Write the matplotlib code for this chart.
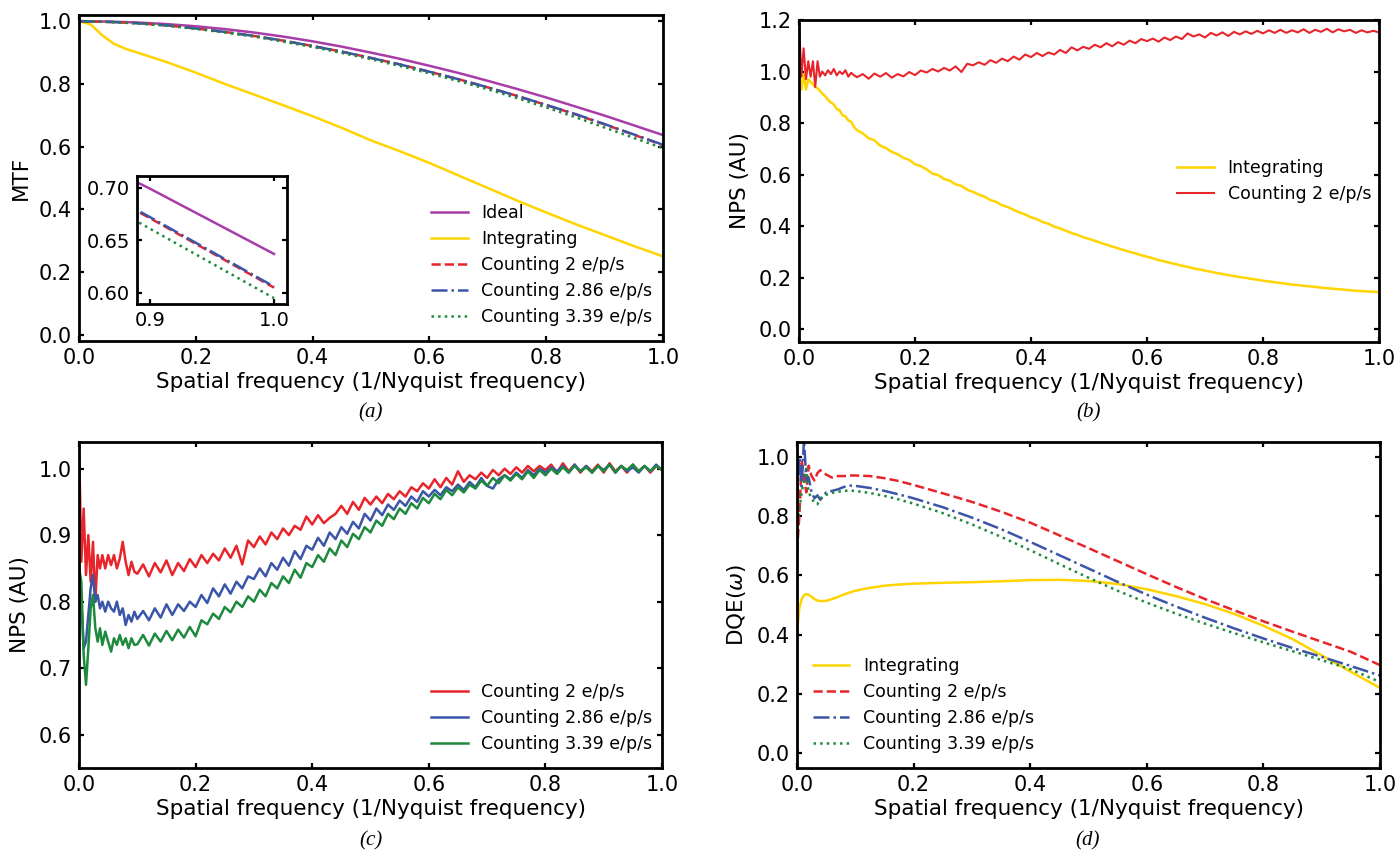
import matplotlib
matplotlib.use("Agg")
import matplotlib.pyplot as plt
from matplotlib.ticker import FormatStrFormatter, MultipleLocator

# ---------------- data ----------------
labels = ["Ideal", "Integrating", "Counting 2 e/p/s", "Counting 2.86 e/p/s",
          "Counting 3.39 e/p/s"]

# (a) MTF
mtf_freq = [0.00, 0.05, 0.10, 0.15, 0.20, 0.25, 0.30, 0.35, 0.40, 0.45, 0.50,
            0.55, 0.60, 0.65, 0.70, 0.75, 0.80, 0.85, 0.90, 0.95, 1.00]
mtf_ideal = [1.000, 0.999, 0.996, 0.991, 0.984, 0.975, 0.964, 0.951, 0.936,
             0.919, 0.900, 0.880, 0.858, 0.835, 0.810, 0.784, 0.757, 0.728,
             0.699, 0.668, 0.637]
mtf_c200 = [1.000, 0.998, 0.994, 0.987, 0.977, 0.966, 0.953, 0.938, 0.921,
            0.903, 0.883, 0.862, 0.839, 0.815, 0.789, 0.762, 0.733, 0.703,
            0.671, 0.638, 0.605]
mtf_c286 = [1.000, 0.998, 0.994, 0.987, 0.977, 0.966, 0.953, 0.938, 0.921,
            0.903, 0.883, 0.862, 0.839, 0.815, 0.789, 0.762, 0.733, 0.704,
            0.672, 0.639, 0.606]
mtf_c339 = [1.000, 0.998, 0.993, 0.986, 0.976, 0.964, 0.951, 0.935, 0.918,
            0.899, 0.879, 0.857, 0.834, 0.809, 0.783, 0.755, 0.725, 0.694,
            0.661, 0.628, 0.595]
mtf_int_freq = [0.00, 0.02, 0.04, 0.06, 0.08, 0.10, 0.15, 0.20, 0.25, 0.30,
                0.35, 0.40, 0.45, 0.50, 0.55, 0.60, 0.65, 0.70, 0.75, 0.80,
                0.85, 0.90, 0.95, 1.00]
mtf_int = [1.000, 0.990, 0.955, 0.928, 0.912, 0.900, 0.870, 0.836, 0.800,
           0.766, 0.732, 0.697, 0.660, 0.620, 0.585, 0.548, 0.508, 0.468,
           0.428, 0.390, 0.353, 0.318, 0.283, 0.250]

# (b), (c) NPS sampling
nps_freq = [0.000, 0.004, 0.008, 0.012, 0.016, 0.020, 0.024, 0.028, 0.032,
            0.036, 0.040, 0.045, 0.050, 0.055, 0.060, 0.065, 0.070, 0.075,
            0.080, 0.085, 0.090, 0.095,
            0.10, 0.11, 0.12, 0.13, 0.14, 0.15, 0.16, 0.17, 0.18, 0.19,
            0.20, 0.21, 0.22, 0.23, 0.24, 0.25, 0.26, 0.27, 0.28, 0.29,
            0.30, 0.31, 0.32, 0.33, 0.34, 0.35, 0.36, 0.37, 0.38, 0.39,
            0.40, 0.41, 0.42, 0.43, 0.44, 0.45, 0.46, 0.47, 0.48, 0.49,
            0.50, 0.51, 0.52, 0.53, 0.54, 0.55, 0.56, 0.57, 0.58, 0.59,
            0.60, 0.61, 0.62, 0.63, 0.64, 0.65, 0.66, 0.67, 0.68, 0.69,
            0.70, 0.71, 0.72, 0.73, 0.74, 0.75, 0.76, 0.77, 0.78, 0.79,
            0.80, 0.81, 0.82, 0.83, 0.84, 0.85, 0.86, 0.87, 0.88, 0.89,
            0.90, 0.91, 0.92, 0.93, 0.94, 0.95, 0.96, 0.97, 0.98, 0.99, 1.00]

# (b) NPS integrating vs counting
nps_b_int = [1.000, 0.930, 0.990, 0.930, 0.970, 0.960, 0.950, 0.940, 0.935,
             0.925, 0.915, 0.905, 0.890, 0.880, 0.872, 0.855, 0.850, 0.830,
             0.826, 0.810, 0.805, 0.785,
             0.772, 0.760, 0.741, 0.733, 0.712, 0.703, 0.688, 0.679, 0.665, 0.657,
             0.640, 0.633, 0.620, 0.604, 0.598, 0.583, 0.576, 0.562, 0.556, 0.541,
             0.533, 0.522, 0.514, 0.501, 0.494, 0.481, 0.474, 0.463, 0.453, 0.445,
             0.434, 0.427, 0.416, 0.409, 0.398, 0.391, 0.382, 0.373, 0.366, 0.357,
             0.350, 0.343, 0.335, 0.328, 0.321, 0.314, 0.307, 0.300, 0.294, 0.287,
             0.281, 0.275, 0.268, 0.263, 0.257, 0.252, 0.246, 0.242, 0.236, 0.232,
             0.227, 0.223, 0.218, 0.214, 0.210, 0.206, 0.202, 0.199, 0.195, 0.192,
             0.188, 0.185, 0.182, 0.179, 0.176, 0.173, 0.171, 0.168, 0.166, 0.164,
             0.161, 0.159, 0.157, 0.155, 0.153, 0.151, 0.149, 0.148, 0.146, 0.145,
             0.143]
nps_b_c200 = [1.200, 0.980, 1.090, 0.970, 1.040, 0.980, 1.040, 0.940, 1.040,
              0.980, 1.000, 0.985, 1.005, 0.990, 1.010, 0.985, 1.000, 0.990,
              1.005, 0.980, 0.995, 0.985,
              0.978, 0.990, 0.972, 0.992, 0.980, 0.994, 0.976, 0.990, 0.981, 0.998,
              0.986, 1.004, 0.996, 1.010, 1.000, 1.014, 1.004, 1.020, 0.998, 1.030,
              1.024, 1.036, 1.026, 1.044, 1.034, 1.050, 1.040, 1.058, 1.046, 1.066,
              1.056, 1.072, 1.060, 1.074, 1.066, 1.084, 1.072, 1.094, 1.082, 1.096,
              1.088, 1.104, 1.094, 1.110, 1.098, 1.114, 1.104, 1.120, 1.110, 1.126,
              1.118, 1.128, 1.116, 1.132, 1.122, 1.136, 1.126, 1.148, 1.136, 1.144,
              1.132, 1.150, 1.140, 1.152, 1.138, 1.154, 1.144, 1.156, 1.146, 1.158,
              1.148, 1.160, 1.150, 1.162, 1.150, 1.160, 1.152, 1.164, 1.150, 1.162,
              1.154, 1.166, 1.152, 1.164, 1.156, 1.162, 1.150, 1.160, 1.152, 1.158,
              1.152]

# (c) normalised NPS of the counting modes
nps_c_c200 = [1.040, 0.860, 0.940, 0.840, 0.900, 0.830, 0.890, 0.800, 0.870,
              0.850, 0.870, 0.850, 0.870, 0.855, 0.870, 0.850, 0.865, 0.890,
              0.860, 0.840, 0.860, 0.845,
              0.842, 0.856, 0.838, 0.858, 0.844, 0.862, 0.840, 0.858, 0.846, 0.864,
              0.852, 0.870, 0.858, 0.872, 0.862, 0.880, 0.866, 0.884, 0.856, 0.892,
              0.882, 0.898, 0.886, 0.904, 0.894, 0.910, 0.900, 0.914, 0.908, 0.928,
              0.916, 0.930, 0.918, 0.926, 0.932, 0.944, 0.932, 0.950, 0.938, 0.956,
              0.946, 0.958, 0.948, 0.962, 0.954, 0.966, 0.958, 0.972, 0.966, 0.978,
              0.970, 0.984, 0.972, 0.986, 0.976, 0.996, 0.980, 0.990, 0.984, 0.994,
              0.986, 0.998, 0.990, 1.000, 0.992, 1.002, 0.994, 1.004, 0.996, 1.004,
              0.998, 1.006, 0.994, 1.008, 0.996, 1.006, 0.994, 1.004, 0.996, 1.006,
              0.994, 1.008, 0.996, 1.004, 0.994, 1.006, 0.996, 1.004, 0.994, 1.004,
              0.998]
nps_c_c286 = [0.850, 0.800, 0.730, 0.740, 0.780, 0.820, 0.840, 0.800, 0.810,
              0.790, 0.800, 0.785, 0.800, 0.790, 0.785, 0.800, 0.780, 0.790,
              0.765, 0.780, 0.770, 0.785,
              0.774, 0.786, 0.772, 0.790, 0.776, 0.796, 0.780, 0.796, 0.786, 0.800,
              0.792, 0.810, 0.798, 0.820, 0.808, 0.826, 0.812, 0.830, 0.820, 0.838,
              0.834, 0.850, 0.838, 0.858, 0.848, 0.866, 0.854, 0.876, 0.864, 0.884,
              0.878, 0.896, 0.884, 0.904, 0.894, 0.912, 0.902, 0.920, 0.910, 0.932,
              0.922, 0.940, 0.930, 0.946, 0.938, 0.952, 0.944, 0.958, 0.950, 0.966,
              0.958, 0.968, 0.960, 0.972, 0.966, 0.976, 0.968, 0.980, 0.972, 0.986,
              0.974, 0.970, 0.984, 0.990, 0.984, 0.994, 0.986, 0.998, 0.990, 1.000,
              0.994, 1.002, 0.996, 1.004, 0.994, 1.006, 0.996, 1.004, 0.994, 1.004,
              0.998, 1.006, 0.994, 1.004, 0.996, 1.002, 0.994, 1.004, 0.996, 1.006,
              0.998]
nps_c_c339 = [0.850, 0.830, 0.720, 0.675, 0.730, 0.790, 0.810, 0.760, 0.740,
              0.760, 0.735, 0.755, 0.740, 0.725, 0.745, 0.735, 0.750, 0.735,
              0.745, 0.730, 0.745, 0.735,
              0.736, 0.750, 0.734, 0.752, 0.740, 0.756, 0.742, 0.758, 0.746, 0.762,
              0.748, 0.772, 0.766, 0.782, 0.774, 0.792, 0.784, 0.800, 0.792, 0.808,
              0.800, 0.818, 0.808, 0.828, 0.820, 0.838, 0.828, 0.848, 0.836, 0.858,
              0.852, 0.870, 0.860, 0.880, 0.870, 0.892, 0.882, 0.902, 0.894, 0.912,
              0.904, 0.922, 0.914, 0.932, 0.924, 0.940, 0.932, 0.948, 0.940, 0.956,
              0.948, 0.962, 0.954, 0.968, 0.960, 0.972, 0.964, 0.976, 0.970, 0.982,
              0.974, 0.986, 0.978, 0.990, 0.982, 0.992, 0.984, 0.996, 0.986, 0.998,
              0.990, 1.000, 0.992, 1.002, 0.994, 1.004, 0.996, 1.002, 0.994, 1.004,
              0.996, 1.006, 0.994, 1.004, 0.998, 1.006, 0.996, 1.004, 0.996, 1.004,
              0.998]

# (d) DQE
dqe_freq = [0.000, 0.004, 0.008, 0.012, 0.016, 0.020, 0.025, 0.030, 0.035,
            0.040, 0.050, 0.060, 0.070, 0.080, 0.090, 0.100, 0.125, 0.150,
            0.175, 0.200, 0.25, 0.30, 0.35, 0.40, 0.45, 0.50, 0.55, 0.60,
            0.65, 0.70, 0.75, 0.80, 0.85, 0.90, 0.95, 1.00]
dqe_int = [0.400, 0.490, 0.520, 0.533, 0.537, 0.535, 0.528, 0.520, 0.515,
           0.513, 0.514, 0.520, 0.527, 0.535, 0.542, 0.548, 0.558, 0.565,
           0.569, 0.572, 0.575, 0.577, 0.580, 0.584, 0.585, 0.581, 0.571,
           0.553, 0.530, 0.503, 0.470, 0.430, 0.385, 0.330, 0.275, 0.220]
dqe_c200 = [0.680, 0.800, 0.990, 0.930, 0.880, 0.970, 0.935, 0.920, 0.945,
            0.955, 0.940, 0.930, 0.935, 0.935, 0.937, 0.937, 0.935, 0.928,
            0.918, 0.905, 0.877, 0.848, 0.815, 0.778, 0.735, 0.692, 0.648,
            0.604, 0.561, 0.520, 0.482, 0.445, 0.410, 0.376, 0.342, 0.297]
dqe_c286 = [0.850, 1.000, 0.900, 1.060, 0.920, 0.930, 0.880, 0.860, 0.870,
            0.855, 0.880, 0.885, 0.890, 0.898, 0.903, 0.902, 0.895, 0.885,
            0.873, 0.860, 0.830, 0.795, 0.756, 0.713, 0.668, 0.623, 0.578,
            0.535, 0.495, 0.457, 0.421, 0.387, 0.355, 0.325, 0.294, 0.262]
dqe_c339 = [0.780, 0.820, 0.880, 0.920, 0.960, 0.880, 0.860, 0.845, 0.840,
            0.860, 0.872, 0.878, 0.882, 0.885, 0.886, 0.885, 0.878, 0.868,
            0.856, 0.842, 0.810, 0.772, 0.730, 0.685, 0.638, 0.592, 0.548,
            0.508, 0.471, 0.437, 0.405, 0.374, 0.344, 0.314, 0.283, 0.240]

PURPLE = "#a83ca8"
GOLD = "#ffd400"
RED = "#e8252b"
BLUE = "#3b55a8"
GREEN = "#1e8a3e"

plt.rcParams["font.family"] = ["DejaVu Sans"]
plt.rcParams["mathtext.fontset"] = "dejavusans"

fig = plt.figure(figsize=(13.97, 8.51), dpi=100)
W, H = 1397.0, 851.0

TICK_FS = 15
LABEL_FS = 15.5


def box(left, top, right, bottom):
    return [left / W, 1 - bottom / H, (right - left) / W, (bottom - top) / H]


def style(ax, fs=TICK_FS):
    for s in ax.spines.values():
        s.set_linewidth(2.0)
    ax.tick_params(direction="in", top=True, right=True, length=3.5,
                   width=1.6, labelsize=fs, pad=5)


def legend(ax, x, y):
    ax.legend(loc="center left", bbox_to_anchor=(x, y), frameon=False,
              fontsize=12.5, handlelength=2.1, handletextpad=0.8,
              labelspacing=0.45, borderpad=0, borderaxespad=0)


lw = 1.8
xlabel = "Spatial frequency (1/Nyquist frequency)"

# ---- (a)
ax_a = fig.add_axes(box(79, 15, 663, 341))
ax_a.plot(mtf_freq, mtf_ideal, color=PURPLE, lw=lw, label=labels[0])
ax_a.plot(mtf_int_freq, mtf_int, color=GOLD, lw=lw, label=labels[1])
ax_a.plot(mtf_freq, mtf_c200, color=RED, lw=lw, ls="--", label=labels[2])
ax_a.plot(mtf_freq, mtf_c286, color=BLUE, lw=lw, ls="-.", label=labels[3])
ax_a.plot(mtf_freq, mtf_c339, color=GREEN, lw=lw, ls=":", label=labels[4])
ax_a.set_xlim(0, 1)
ax_a.set_ylim(-0.02, 1.02)
ax_a.yaxis.set_major_locator(MultipleLocator(0.2))
ax_a.set_ylabel("MTF", fontsize=LABEL_FS, labelpad=6)
ax_a.set_xlabel(xlabel, fontsize=LABEL_FS, labelpad=3)
legend(ax_a, 0.603, 0.233)

ins = fig.add_axes(box(137, 176, 287, 304))
ins.plot(mtf_freq, mtf_ideal, color=PURPLE, lw=lw)
ins.plot(mtf_freq, mtf_c200, color=RED, lw=lw, ls="--")
ins.plot(mtf_freq, mtf_c286, color=BLUE, lw=lw, ls="-.")
ins.plot(mtf_freq, mtf_c339, color=GREEN, lw=lw, ls=":")
ins.set_xlim(0.8896, 1.0104)
ins.set_ylim(0.5895, 0.711)
ins.set_xticks([0.9, 1.0])
ins.set_yticks([0.60, 0.65, 0.70])
ins.xaxis.set_major_formatter(FormatStrFormatter("%.1f"))
ins.yaxis.set_major_formatter(FormatStrFormatter("%.2f"))
style(ins, 14)

# ---- (b)
ax_b = fig.add_axes(box(799, 20, 1379, 342))
ax_b.plot(nps_freq, nps_b_int, color=GOLD, lw=lw, label=labels[1])
ax_b.plot(nps_freq, nps_b_c200, color=RED, lw=1.5, label=labels[2])
ax_b.set_xlim(0, 1)
ax_b.set_ylim(-0.05, 1.2)
ax_b.yaxis.set_major_locator(MultipleLocator(0.2))
ax_b.set_ylabel("NPS (AU)", fontsize=LABEL_FS, labelpad=6)
ax_b.set_xlabel(xlabel, fontsize=LABEL_FS, labelpad=3)
legend(ax_b, 0.652, 0.50)

# ---- (c)
ax_c = fig.add_axes(box(79, 442, 662, 768))
ax_c.plot(nps_freq, nps_c_c200, color=RED, lw=lw, label=labels[2])
ax_c.plot(nps_freq, nps_c_c286, color=BLUE, lw=lw, label=labels[3])
ax_c.plot(nps_freq, nps_c_c339, color=GREEN, lw=lw, label=labels[4])
ax_c.set_xlim(0, 1)
ax_c.set_ylim(0.55, 1.04)
ax_c.yaxis.set_major_locator(MultipleLocator(0.1))
ax_c.set_ylabel("NPS (AU)", fontsize=LABEL_FS, labelpad=6)
ax_c.set_xlabel(xlabel, fontsize=LABEL_FS, labelpad=3)
legend(ax_c, 0.604, 0.153)

# ---- (d)
ax_d = fig.add_axes(box(797, 442, 1380, 768))
ax_d.plot(dqe_freq, dqe_int, color=GOLD, lw=lw, label=labels[1])
ax_d.plot(dqe_freq, dqe_c200, color=RED, lw=lw, ls="--", label=labels[2])
ax_d.plot(dqe_freq, dqe_c286, color=BLUE, lw=lw, ls="-.", label=labels[3])
ax_d.plot(dqe_freq, dqe_c339, color=GREEN, lw=lw, ls=":", label=labels[4])
ax_d.set_xlim(0, 1)
ax_d.set_ylim(-0.05, 1.05)
ax_d.yaxis.set_major_locator(MultipleLocator(0.2))
ax_d.set_ylabel(r"DQE($\omega$)", fontsize=LABEL_FS, labelpad=6)
ax_d.set_xlabel(xlabel, fontsize=LABEL_FS, labelpad=3)
legend(ax_d, 0.027, 0.193)

for ax in (ax_a, ax_b, ax_c, ax_d):
    style(ax)
    ax.xaxis.set_major_locator(MultipleLocator(0.2))
    ax.xaxis.set_major_formatter(FormatStrFormatter("%.1f"))
    ax.yaxis.set_major_formatter(FormatStrFormatter("%.1f"))

for txt, cx, cy in [("(a)", 371, 413), ("(b)", 1089, 413),
                    ("(c)", 371, 841), ("(d)", 1088, 841)]:
    fig.text(cx / W, 1 - cy / H, txt, ha="center", va="center",
             family="Liberation Serif", style="italic", fontsize=15)

fig.savefig("out.png", dpi=100)
